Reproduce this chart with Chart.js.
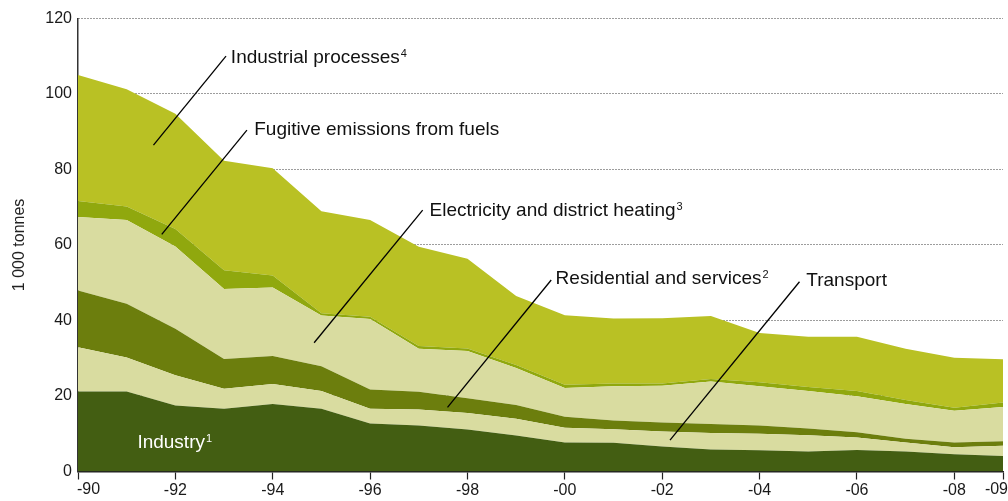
<!DOCTYPE html>
<html>
<head>
<meta charset="utf-8">
<script src="https://cdn.jsdelivr.net/npm/chart.js@4.4.1/dist/chart.umd.min.js"></script>
<style>
html,body{margin:0;padding:0;background:#fff;}
#wrap{width:1008px;height:501px;position:relative;}
canvas{display:block;}
</style>
</head>
<body>
<div id="wrap"><canvas id="c" width="1008" height="501"></canvas></div>
<script>
// ---- data (1 000 tonnes) ----
const years = [1990,1991,1992,1993,1994,1995,1996,1997,1998,1999,2000,2001,2002,2003,2004,2005,2006,2007,2008,2009];
const industry      = [21.2,21.2,17.5,16.6,17.9,16.6,12.7,12.2,11.1,9.5,7.7,7.6,6.6,5.8,5.6,5.3,5.7,5.3,4.6,4.1];
const transport     = [11.7,9.0,8.0,5.3,5.3,4.7,3.9,4.2,4.4,4.5,3.9,3.6,4.0,4.4,4.4,4.3,3.3,2.4,1.8,2.7];
const residential   = [15.0,14.2,12.3,7.9,7.4,6.6,5.1,4.7,3.9,3.6,2.9,2.3,2.4,2.4,2.2,1.8,1.4,1.0,1.3,1.2];
const electricity   = [19.5,22.2,21.8,18.5,18.1,13.4,18.7,11.4,12.5,9.8,7.6,9.1,9.7,11.2,10.4,9.9,9.5,9.2,8.4,9.1];
const fugitive      = [4.2,3.6,4.6,5.0,3.2,0.6,0.6,0.7,0.7,0.8,0.9,0.7,0.6,0.7,1.0,1.1,1.4,1.0,0.8,1.2];
const industrialProc= [33.4,31.0,30.5,29.0,28.4,27.0,25.6,26.3,23.7,18.3,18.4,17.2,17.3,16.7,13.1,13.3,14.4,13.6,13.2,11.4];

const seriesNames = ["Industry","Transport","Residential and services","Electricity and district heating","Fugitive emissions from fuels","Industrial processes"];
const xTickValues = [1990,1992,1994,1996,1998,2000,2002,2004,2006,2008,2009];
const xTickLabels = ["-90","-92","-94","-96","-98","-00","-02","-04","-06","-08","-09"];
const yTickValues = [0,20,40,60,80,100,120];
const yTitle = "1 000 tonnes";

// annotation labels
const labelTexts = ["Industrial processes","Fugitive emissions from fuels","Electricity and district heating","Residential and services","Transport","Industry"];
const labelSups  = ["4","","3","2","","1"];
const labelAt    = [[1993.14,108.2],[1993.62,89.2],[1997.22,67.6],[1999.81,49.6],[2004.96,49.1],[1991.22,6.1]];
const leaderFrom = [[1993.04,110.0],[1993.47,90.4],[1997.08,69.2],[1999.72,50.7],[2004.82,50.25],null];
const leaderTo   = [[1991.55,86.4],[1991.72,62.8],[1994.85,34.1],[1997.59,17.0],[2002.16,8.3],null];

const colors = ["#435e12","#d9dca0","#6c7e0d","#d9dca0","#90a80e","#b9c124"];
const FONT = "'Liberation Sans', Arial, Helvetica, sans-serif";
const TICK_COLOR = '#1a1a1a';

const allSeries = [industry, transport, residential, electricity, fugitive, industrialProc];
const datasets = allSeries.map((arr, i) => ({
  label: seriesNames[i],
  data: years.map((y, k) => ({x: y, y: arr[k]})),
  backgroundColor: colors[i],
  borderColor: 'rgba(0,0,0,0)',
  borderWidth: 0,
  pointRadius: 0,
  pointHoverRadius: 0,
  tension: 0,
  fill: i === 0 ? 'origin' : '-1'
}));

const annotationPlugin = {
  id: 'annot',
  afterDatasetsDraw(chart) {
    const {ctx, scales: {x, y}} = chart;
    ctx.save();
    for (let i = 0; i < labelTexts.length; i++) {
      if (leaderFrom[i]) {
        ctx.beginPath();
        ctx.strokeStyle = '#000';
        ctx.lineWidth = 1.3;
        ctx.moveTo(x.getPixelForValue(leaderFrom[i][0]), y.getPixelForValue(leaderFrom[i][1]));
        ctx.lineTo(x.getPixelForValue(leaderTo[i][0]), y.getPixelForValue(leaderTo[i][1]));
        ctx.stroke();
      }
      const tx = x.getPixelForValue(labelAt[i][0]);
      const ty = y.getPixelForValue(labelAt[i][1]);
      ctx.fillStyle = i === 5 ? '#ffffff' : '#111111';
      ctx.textBaseline = 'alphabetic';
      ctx.textAlign = 'left';
      ctx.font = "19px " + FONT;
      ctx.fillText(labelTexts[i], tx, ty);
      const w = ctx.measureText(labelTexts[i]).width;
      if (labelSups[i]) {
        ctx.font = "11px " + FONT;
        ctx.fillText(labelSups[i], tx + w + 1, ty - 6);
      }
    }
    ctx.restore();
  },
  afterDraw(chart) {
    // first and last x labels are kept inside the plot edges
    const {ctx, scales: {x}} = chart;
    const last = xTickValues.length - 1;
    const ly = x.top + 18;
    ctx.save();
    ctx.font = "16px " + FONT;
    ctx.fillStyle = TICK_COLOR;
    ctx.textBaseline = 'middle';
    ctx.textAlign = 'left';
    ctx.fillText(xTickLabels[0], x.getPixelForValue(xTickValues[0]) - 1, ly);
    ctx.textAlign = 'right';
    ctx.fillText(xTickLabels[last], x.getPixelForValue(xTickValues[last]) + 5, ly);
    ctx.restore();
  }
};

new Chart(document.getElementById('c'), {
  type: 'line',
  data: { datasets },
  plugins: [annotationPlugin],
  options: {
    responsive: false,
    animation: false,
    devicePixelRatio: 1,
    events: [],
    layout: { padding: { top: 18.3, right: 5, left: 0, bottom: 0 } },
    plugins: { legend: { display: false }, tooltip: { enabled: false }, title: { display: false } },
    scales: {
      x: {
        type: 'linear',
        min: 1990,
        max: 2009,
        z: 1,
        afterBuildTicks: (s) => { s.ticks = xTickValues.map(v => ({value: v})); },
        afterFit: (s) => { s.height = 29.5; s.paddingLeft = 0; s.paddingRight = 0; },
        ticks: {
          autoSkip: false,
          maxRotation: 0,
          padding: 1,
          color: (c) => (c.index === 0 || c.index === xTickValues.length - 1) ? 'rgba(0,0,0,0)' : TICK_COLOR,
          font: { family: FONT, size: 16 },
          callback: (v) => { const k = xTickValues.indexOf(v); return k >= 0 ? xTickLabels[k] : ''; }
        },
        grid: { drawOnChartArea: false, drawTicks: true, tickLength: 8, tickColor: '#222', tickWidth: 1.2 },
        border: { display: true, color: '#222', width: 1.5 }
      },
      y: {
        type: 'linear',
        stacked: true,
        min: 0,
        max: 120,
        z: 1,
        afterBuildTicks: (s) => { s.ticks = yTickValues.map(v => ({value: v})); },
        afterFit: (s) => { s.width = 78; s.paddingTop = 0; s.paddingBottom = 0; },
        ticks: {
          padding: 6,
          color: TICK_COLOR,
          font: { family: FONT, size: 16 }
        },
        grid: {
          drawTicks: false,
          lineWidth: 1,
          color: (c) => (c.tick && c.tick.value === 0) ? 'rgba(0,0,0,0)' : '#3a3a3a'
        },
        border: { display: true, color: '#333', width: 1.5, dash: [1, 2] },
        title: {
          display: true,
          text: yTitle,
          color: '#222',
          font: { family: FONT, size: 16 },
          padding: { top: 10, bottom: 0 }
        }
      }
    }
  }
});
</script>
</body>
</html>
